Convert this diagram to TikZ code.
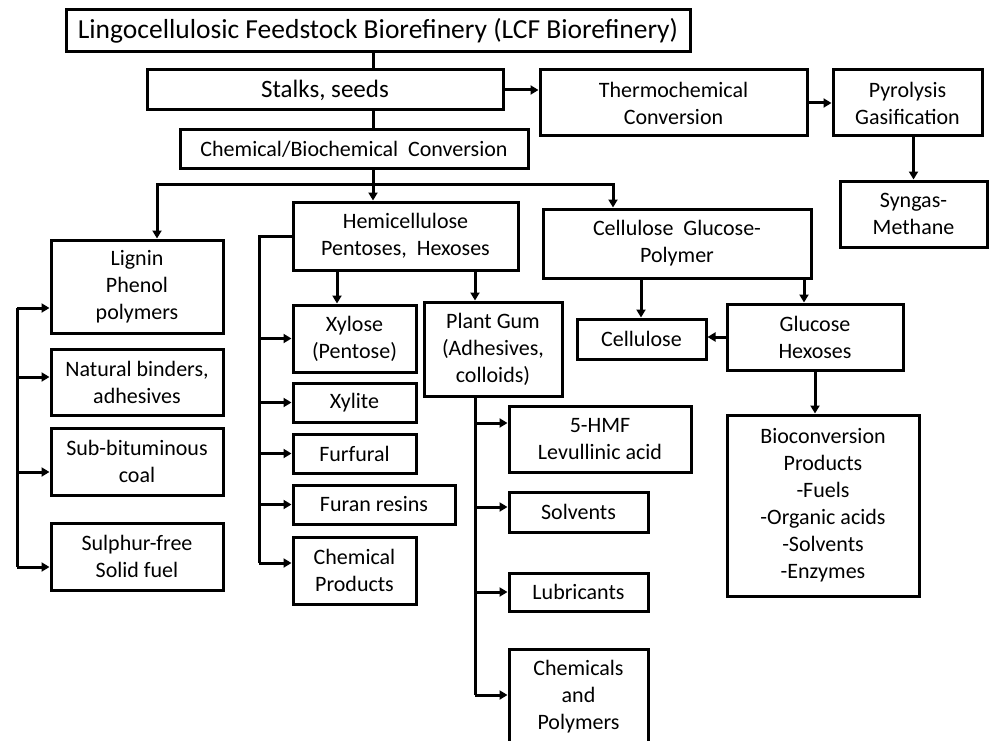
\documentclass[tikz,border=0pt]{standalone}
\usepackage{fontspec}
\setmainfont{Carlito}
\usetikzlibrary{arrows.meta}

% box from corner (x1,y1) to corner (x2,y2), y measured downwards
\newcommand\fbnode[7][]{%
  \node[box,#1,minimum width={#5pt-#3pt},minimum height={#6pt-#4pt}]
    (#2) at ({(#3+#5)/2},{(#4+#6)/2}) {#7};}

\begin{document}
\begin{tikzpicture}[x=1pt,y=-1pt,
  box/.style={draw,line width=3pt,inner sep=0pt,align=center,
    font=\fontsize{22}{27}\selectfont},
  link/.style={line width=3pt},
  arr/.style={line width=3pt,-{Triangle[length=8pt,width=9pt]}},
]
\clip (0,0) rectangle (990,741);
\fill[white] (0,0) rectangle (990,741);

% top of the tree
\fbnode[font=\fontsize{27.5}{32}\selectfont]{title}{66}{10}{690}{52}{Lingocellulosic Feedstock Biorefinery (LCF Biorefinery)}
\fbnode[font=\fontsize{25}{30}\selectfont]{stalks}{147}{70}{503}{110}{Stalks, seeds}
\fbnode{thermo}{540}{70}{807}{136}{Thermochemical\\Conversion}
\fbnode{pyro}{833}{70}{982}{136}{Pyrolysis\\Gasification}
\fbnode{syngas}{840}{181}{987}{247}{Syngas-\\Methane}
\fbnode{chem}{180}{130}{528}{168}{Chemical/Biochemical\ \ Conversion}

% main fractions
\fbnode{hemi}{293}{202}{518}{270}{Hemicellulose\\Pentoses,\ \ Hexoses}
\fbnode{cgp}{543}{209}{811}{278}{Cellulose\ \ Glucose-\\Polymer}
\fbnode{lignin}{51}{240}{223}{333}{Lignin\\Phenol\\polymers}

% lignin products
\fbnode{binders}{51}{349}{223}{415}{Natural binders,\\adhesives}
\fbnode{subbit}{51}{428}{223}{495}{Sub-bituminous\\coal}
\fbnode{sulphur}{51}{523}{223}{590}{Sulphur-free\\Solid fuel}

% hemicellulose products
\fbnode{xylose}{293}{305}{416}{372}{Xylose\\(Pentose)}
\fbnode{xylite}{293}{383}{416}{422}{Xylite}
\fbnode{furfural}{293}{434}{416}{473}{Furfural}
\fbnode{furan}{293}{485}{455}{524}{Furan resins}
\fbnode{chemprod}{293}{537}{416}{604}{Chemical\\Products}
\fbnode{gum}{424}{302}{562}{396}{Plant Gum\\(Adhesives,\\colloids)}
\fbnode{hmf}{509}{406}{691}{472}{5-HMF\\Levullinic acid}
\fbnode{solv}{509}{492}{648}{532}{Solvents}
\fbnode{lub}{509}{573}{648}{611}{Lubricants}
\fbnode{chempoly}{509}{649}{648}{745}{Chemicals\\and\\Polymers}

% cellulose products
\fbnode{cellulose}{577}{319}{706}{359}{Cellulose}
\fbnode{glucose}{727}{304}{903}{370}{Glucose\\Hexoses}
\fbnode{bio}{727}{415}{919}{596}{Bioconversion\\Products\\-Fuels\\-Organic acids\\-Solvents\\-Enzymes}

% trunk and first split
\coordinate (tx) at (373,0);
\coordinate (split) at (373,184);
\coordinate (lx) at (157,184);
\coordinate (cx) at (613,184);
\draw[link] (title.south -| tx) -- (stalks.north -| tx);
\draw[link] (stalks.south -| tx) -- (chem.north -| tx);
\draw[link] (chem.south -| tx) -- (split);
\draw[arr] (split) -| (lignin.north -| lx);
\draw[arr] (split) -- (hemi.north -| tx);
\draw[arr] (split) -| (cgp.north -| cx);

% thermochemical route
\draw[arr] (stalks.east) -- (stalks.east -| thermo.west);
\draw[arr] (thermo.east) -- (thermo.east -| pyro.west);
\draw[arr] (pyro.south -| syngas.north) -- (syngas.north);

% lignin bus
\coordinate (l1) at (17,308);
\coordinate (l2) at (17,377);
\coordinate (l3) at (17,472);
\coordinate (l4) at (17,567);
\draw[link] (l1) -- (l4);
\draw[arr] (l1) -- (l1 -| lignin.west);
\draw[arr] (l2) -- (l2 -| binders.west);
\draw[arr] (l3) -- (l3 -| subbit.west);
\draw[arr] (l4) -- (l4 -| sulphur.west);

% hemicellulose bus
\coordinate (hb) at (259,563);
\draw[link] (hemi.west) -| (hb);
\draw[arr] (hb |- xylose.west) -- (xylose.west);
\draw[arr] (hb |- xylite.west) -- (xylite.west);
\draw[arr] (hb |- furfural.west) -- (furfural.west);
\draw[arr] (hb |- furan.west) -- (furan.west);
\draw[arr] (hb) -- (hb -| chemprod.west);
\coordinate (xx) at (337,0);
\coordinate (gx) at (475,0);
\draw[arr] (hemi.south -| xx) -- (xylose.north -| xx);
\draw[arr] (hemi.south -| gx) -- (gum.north -| gx);

% plant gum bus
\coordinate (g1) at (475,423);
\coordinate (g2) at (475,507);
\coordinate (g3) at (475,592);
\coordinate (g4) at (475,695);
\draw[link] (gum.south -| gx) -- (g4);
\draw[arr] (g1) -- (g1 -| hmf.west);
\draw[arr] (g2) -- (g2 -| solv.west);
\draw[arr] (g3) -- (g3 -| lub.west);
\draw[arr] (g4) -- (g4 -| chempoly.west);

% cellulose branch
\coordinate (ax) at (641,0);
\coordinate (bx) at (804,0);
\draw[arr] (cgp.south -| ax) -- (cellulose.north -| ax);
\draw[arr] (cgp.south -| bx) -- (glucose.north -| bx);
\draw[arr] (glucose.west) -- (glucose.west -| cellulose.east);
\draw[arr] (glucose.south) -- (glucose.south |- bio.north);
\end{tikzpicture}
\end{document}
